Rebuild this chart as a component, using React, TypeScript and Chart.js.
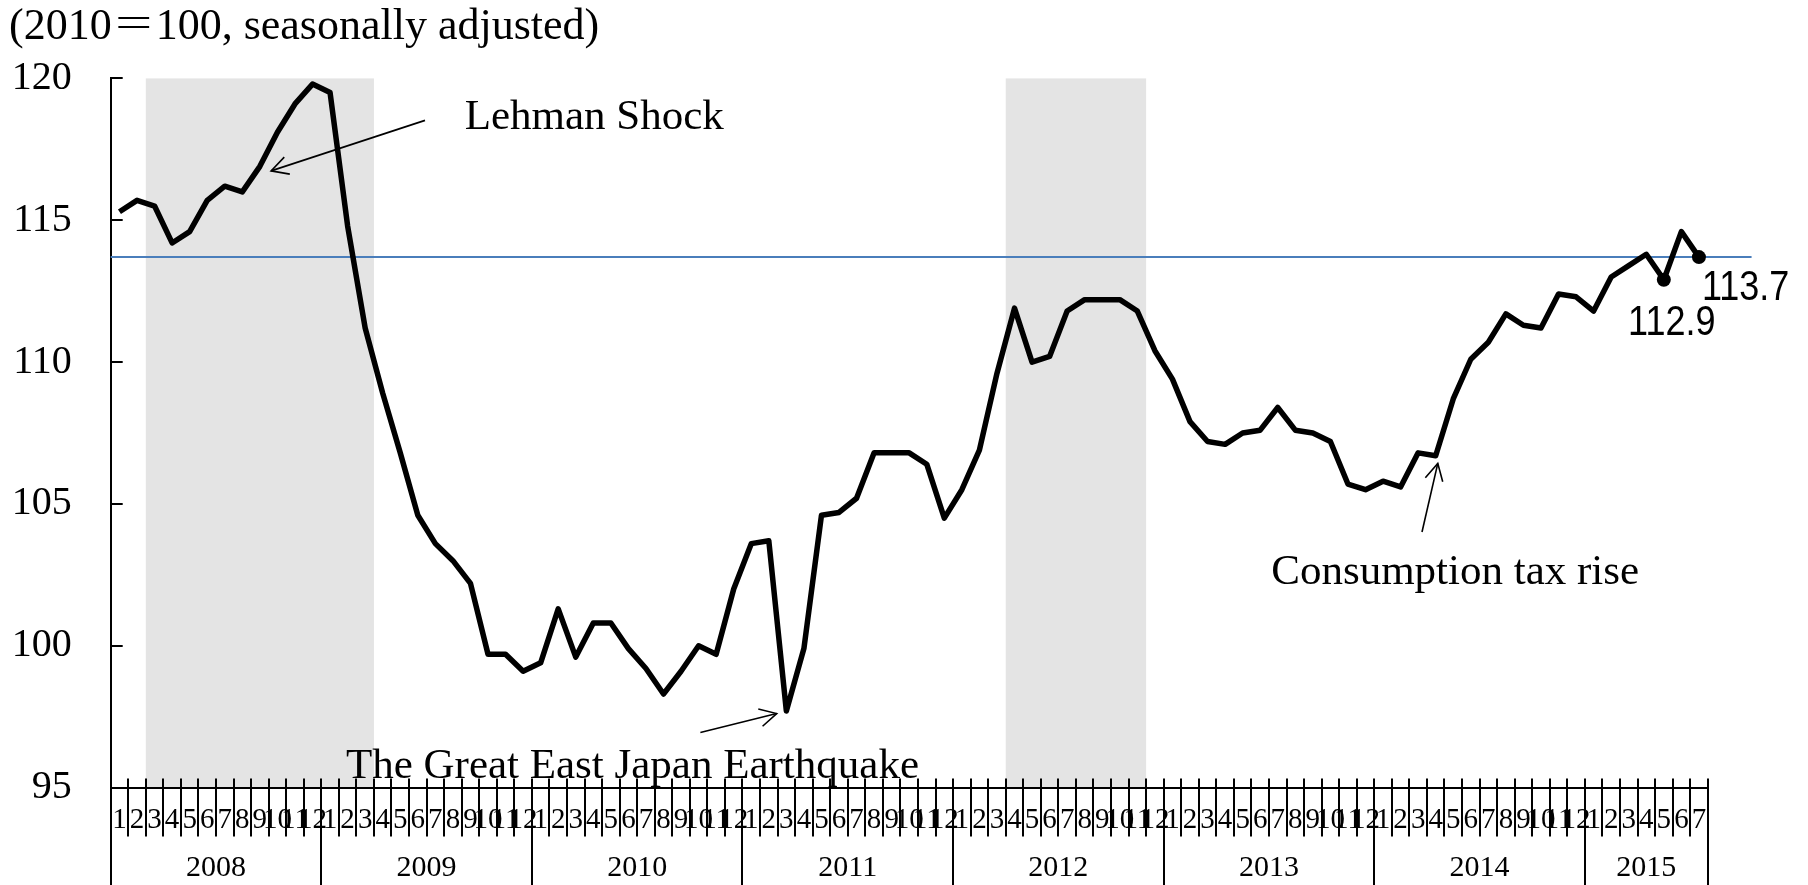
import React, { useEffect, useRef } from "react";
import { Chart, registerables } from "chart.js";

Chart.register(...registerables);

// ---------------- data ----------------
const years = ["2008", "2009", "2010", "2011", "2012", "2013", "2014", "2015"];
const monthsInYear = [12, 12, 12, 12, 12, 12, 12, 7];

const values2008 = [115.3, 115.7, 115.5, 114.2, 114.6, 115.7, 116.2, 116.0, 116.9, 118.1, 119.1, 119.8];
const values2009 = [119.5, 114.8, 111.2, 108.9, 106.8, 104.6, 103.6, 103.0, 102.2, 99.7, 99.7, 99.1];
const values2010 = [99.4, 101.3, 99.6, 100.8, 100.8, 99.9, 99.2, 98.3, 99.1, 100.0, 99.7, 102.0];
const values2011 = [103.6, 103.7, 97.7, 99.9, 104.6, 104.7, 105.2, 106.8, 106.8, 106.8, 106.4, 104.5];
const values2012 = [105.5, 106.9, 109.6, 111.9, 110.0, 110.2, 111.8, 112.2, 112.2, 112.2, 111.8, 110.4];
const values2013 = [109.4, 107.9, 107.2, 107.1, 107.5, 107.6, 108.4, 107.6, 107.5, 107.2, 105.7, 105.5];
const values2014 = [105.8, 105.6, 106.8, 106.7, 108.7, 110.1, 110.7, 111.7, 111.3, 111.2, 112.4, 112.3];
const values2015 = [111.8, 113.0, 113.4, 113.8, 112.9, 114.6, 113.7];

const indexValues = [
  ...values2008, ...values2009, ...values2010, ...values2011,
  ...values2012, ...values2013, ...values2014, ...values2015,
];

const referenceValue = 113.7;
const yMin = 95;
const yMax = 120;
const yStep = 5;

// recession periods: [startYear, startMonth, endYear, endMonth]
const recessionPeriods: [string, number, string, number][] = [
  ["2008", 3, "2009", 3],
  ["2012", 4, "2012", 11],
];

// highlighted months with value labels: [year, month]
const labelledMonths: [string, number][] = [
  ["2015", 5],
  ["2015", 7],
];

const caption = "(2010＝100, seasonally adjusted)";

// annotations in (month index, value) coordinates
const annotations = [
  { text: "Lehman Shock", at: [19.67, 118.6], align: "left", from: [17.41, 118.52], to: [8.64, 116.74] },
  { text: "The Great East Japan Earthquake", at: [29.23, 95.74], align: "center", from: [33.1, 96.94], to: [37.45, 97.61] },
  { text: "Consumption tax rise", at: [76.11, 102.58], align: "center", from: [74.22, 104.01], to: [75.12, 106.43] },
];

// ---------------- derived ----------------
const monthLabels: string[] = [];
const yearStart: number[] = [];
years.forEach((y, i) => {
  yearStart.push(monthLabels.length);
  for (let m = 1; m <= monthsInYear[i]; m++) monthLabels.push(String(m));
});
const idxOf = (year: string, month: number) => yearStart[years.indexOf(year)] + month - 1;

const SERIF = "'Liberation Serif', 'Times New Roman', 'Noto Serif CJK JP', 'Noto Sans CJK JP', serif";
const SANS = "'Liberation Sans', Arial, sans-serif";

const W = 1808;
const H = 885;
const AREA_LEFT = 110.7;
const AREA_RIGHT = 1707.7;
const AREA_TOP = 78.4;
const AREA_BOTTOM = 787.6;

function drawArrow(ctx: CanvasRenderingContext2D, x1: number, y1: number, x2: number, y2: number) {
  ctx.beginPath();
  ctx.moveTo(x1, y1);
  ctx.lineTo(x2, y2);
  ctx.stroke();
  const ang = Math.atan2(y1 - y2, x1 - x2);
  const len = 19;
  const spread = (28 * Math.PI) / 180;
  ctx.beginPath();
  ctx.moveTo(x2 + len * Math.cos(ang - spread), y2 + len * Math.sin(ang - spread));
  ctx.lineTo(x2, y2);
  ctx.lineTo(x2 + len * Math.cos(ang + spread), y2 + len * Math.sin(ang + spread));
  ctx.stroke();
}

function drawTall(ctx: CanvasRenderingContext2D, text: string, x: number, y: number, sy: number) {
  ctx.save();
  ctx.translate(x, y);
  ctx.scale(1, sy);
  ctx.fillText(text, 0, 0);
  ctx.restore();
}

const decorPlugin = {
  id: "decor",
  beforeDraw(chart: any) {
    const { ctx, chartArea, scales } = chart;
    const x = scales.x;
    ctx.save();
    ctx.fillStyle = "#e4e4e4";
    recessionPeriods.forEach(([sy, sm, ey, em]) => {
      const x0 = x.getPixelForValue(idxOf(sy, sm) - 0.5);
      const x1 = x.getPixelForValue(idxOf(ey, em) + 0.5);
      ctx.fillRect(x0, chartArea.top, x1 - x0, chartArea.bottom - chartArea.top);
    });
    ctx.restore();
  },
  beforeDatasetsDraw(chart: any) {
    const { ctx, chartArea, scales } = chart;
    const x = scales.x;
    const y = scales.y;
    const yy = y.getPixelForValue(referenceValue);
    ctx.save();
    ctx.strokeStyle = "#4a7ebb";
    ctx.lineWidth = 2;
    ctx.beginPath();
    ctx.moveTo(chartArea.left, yy);
    ctx.lineTo(x.getPixelForValue(indexValues.length + 2), yy);
    ctx.stroke();
    ctx.restore();
  },
  afterDraw(chart: any) {
    const { ctx, chartArea, scales } = chart;
    const x = scales.x;
    const y = scales.y;
    const bottom = chartArea.bottom;
    ctx.save();
    ctx.strokeStyle = "#000";
    ctx.lineWidth = 2;

    // inward y ticks
    for (let v = yMin + yStep; v <= yMax; v += yStep) {
      const py = Math.round(y.getPixelForValue(v));
      ctx.beginPath();
      ctx.moveTo(chartArea.left, py);
      ctx.lineTo(chartArea.left + 12, py);
      ctx.stroke();
    }

    // month separators
    for (let k = 0; k <= monthLabels.length; k++) {
      const px = Math.round(x.getPixelForValue(k - 0.5));
      const isYear = yearStart.includes(k) || k === monthLabels.length;
      ctx.beginPath();
      ctx.moveTo(px, bottom - 9);
      ctx.lineTo(px, isYear ? H : bottom + 49);
      ctx.stroke();
    }

    // year labels
    ctx.fillStyle = "#000";
    ctx.font = `30px ${SERIF}`;
    ctx.textAlign = "center";
    ctx.textBaseline = "middle";
    years.forEach((yr, i) => {
      const s = yearStart[i];
      const e = s + monthsInYear[i] - 1;
      ctx.fillText(yr, x.getPixelForValue((s + e) / 2), bottom + 81);
    });

    // caption
    ctx.font = `44px ${SERIF}`;
    ctx.textAlign = "left";
    ctx.fillText(caption, 9, 27);

    // annotations
    ctx.font = `43px ${SERIF}`;
    ctx.lineWidth = 1.6;
    annotations.forEach((a) => {
      ctx.textAlign = a.align as CanvasTextAlign;
      ctx.fillText(a.text, x.getPixelForValue(a.at[0]), y.getPixelForValue(a.at[1]));
      drawArrow(
        ctx,
        x.getPixelForValue(a.from[0]), y.getPixelForValue(a.from[1]),
        x.getPixelForValue(a.to[0]), y.getPixelForValue(a.to[1])
      );
    });

    // value labels
    ctx.font = `36px ${SANS}`;
    labelledMonths.forEach(([yr, m], j) => {
      const i = idxOf(yr, m);
      const px = x.getPixelForValue(i);
      const py = y.getPixelForValue(indexValues[i]);
      if (j === labelledMonths.length - 1) {
        ctx.textAlign = "left";
        drawTall(ctx, indexValues[i].toFixed(1), px + 3, py + 31, 1.18);
      } else {
        ctx.textAlign = "center";
        drawTall(ctx, indexValues[i].toFixed(1), px + 8, py + 43, 1.18);
      }
    });
    ctx.restore();
  },
};

export default function App() {
  const ref = useRef<HTMLCanvasElement>(null);
  useEffect(() => {
    if (!ref.current) return;
    const labelled = new Set(labelledMonths.map(([yr, m]) => idxOf(yr, m)));
    const chart = new Chart(ref.current, {
      type: "line",
      data: {
        labels: monthLabels,
        datasets: [
          {
            data: indexValues,
            borderColor: "#000",
            backgroundColor: "#000",
            borderWidth: 5.5,
            borderJoinStyle: "round",
            tension: 0,
            pointRadius: (c: any) => (labelled.has(c.dataIndex) ? 7 : 0),
            pointHoverRadius: 0,
            pointBorderWidth: 0,
            pointBackgroundColor: "#000",
            clip: false as any,
          },
        ],
      },
      options: {
        responsive: false,
        animation: false,
        events: [],
        layout: { padding: { top: AREA_TOP, right: W - AREA_RIGHT, left: 0, bottom: 0 } },
        plugins: { legend: { display: false }, tooltip: { enabled: false } },
        scales: {
          x: {
            type: "category",
            offset: true,
            grid: { display: false, drawTicks: false },
            border: { display: true, color: "#000", width: 2 },
            ticks: {
              autoSkip: false,
              maxRotation: 0,
              minRotation: 0,
              padding: 15,
              color: "#000",
              font: { family: SERIF, size: 29 },
            },
            afterFit: (s: any) => {
              s.height = H - AREA_BOTTOM;
            },
          },
          y: {
            min: yMin,
            max: yMax,
            grid: { display: false, drawTicks: false },
            border: { display: true, color: "#000", width: 2 },
            ticks: {
              stepSize: yStep,
              padding: 39,
              color: "#000",
              font: { family: SERIF, size: 40 },
            },
            afterFit: (s: any) => {
              s.width = AREA_LEFT;
            },
          },
        },
      },
      plugins: [decorPlugin],
    });
    return () => chart.destroy();
  }, []);
  return (
    <div style={{ position: "absolute", left: 0, top: 0, width: W, height: H, background: "#fff" }}>
      <canvas ref={ref} width={W} height={H} />
    </div>
  );
}
